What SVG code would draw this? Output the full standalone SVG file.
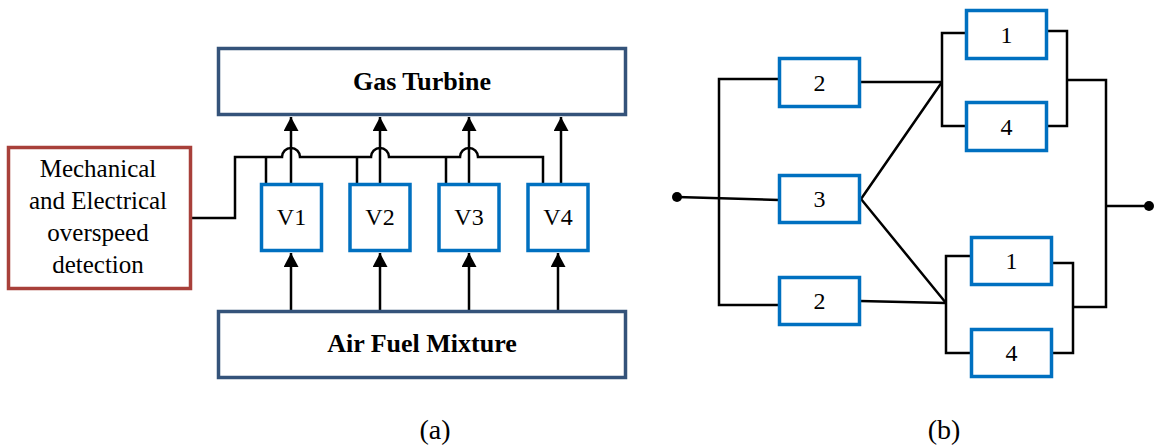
<svg xmlns="http://www.w3.org/2000/svg" width="1156" height="445" viewBox="0 0 1156 445">
<style>
.t{font-family:"Liberation Serif","Times New Roman",serif;fill:#000;text-anchor:middle}
.b{font-weight:bold;font-size:26px}
.v{font-size:24px}
.box-n{fill:#fff;stroke:#34537A;stroke-width:3.5}
.box-r{fill:#fff;stroke:#A8403A;stroke-width:3.5}
.box-b{fill:#fff;stroke:#0070C0;stroke-width:3.5}
.w{fill:none;stroke:#000;stroke-width:2.5}
</style>
<defs>
<marker id="ah" markerUnits="userSpaceOnUse" markerWidth="16" markerHeight="15" refX="15" refY="8" orient="auto" viewBox="0 0 16 16">
<path d="M0,0 L15,8 L0,16 Z" fill="#000"/>
</marker>
</defs>
<g id="connectors">
<path class="w" d="M190,218 H235 V157 H282 A9,9 0 0 1 300,157 H371 A9,9 0 0 1 389,157 H460 A9,9 0 0 1 478,157 H543 V184"/>
<path class="w" d="M266,157 V184 M357,157 V184 M446,157 V184"/>
<path class="w" d="M291,184 V117" marker-end="url(#ah)"/>
<path class="w" d="M380,184 V117" marker-end="url(#ah)"/>
<path class="w" d="M469,184 V117" marker-end="url(#ah)"/>
<path class="w" d="M561,184 V117" marker-end="url(#ah)"/>
<path class="w" d="M291,310 V253" marker-end="url(#ah)"/>
<path class="w" d="M380,310 V253" marker-end="url(#ah)"/>
<path class="w" d="M469,310 V253" marker-end="url(#ah)"/>
<path class="w" d="M558,310 V253" marker-end="url(#ah)"/>
<path class="w" d="M677,197 L779,200"/>
<path class="w" d="M779,79 H719 V305 H779"/>
<path class="w" d="M860,82 H942 M966,33 H942 V126 H966 M1047,31 H1067 V126 H1047 M1067,80 H1106 V307 H1073 M1106,206 H1149"/>
<path class="w" d="M942,82 L861,199 L946,303"/>
<path class="w" d="M860,301 L946,303 M971,256 H946 V353 H971 M1052,263 H1073 V353 H1052"/>
<circle cx="677" cy="197" r="5" fill="#000"/>
<circle cx="1149" cy="206" r="5" fill="#000"/>
</g>
<g id="gas-turbine">
<rect class="box-n" x="218.5" y="48.5" width="407" height="66"/>
<text class="t b" x="422" y="90">Gas Turbine</text>
</g>
<g id="air-fuel">
<rect class="box-n" x="218.5" y="311.5" width="407" height="66"/>
<text class="t b" x="422" y="352">Air Fuel Mixture</text>
</g>
<g id="detection">
<rect class="box-r" x="8.5" y="147.5" width="182" height="141"/>
<text class="t" style="font-size:25px" x="98" y="177">Mechanical</text>
<text class="t" style="font-size:25px" x="98" y="209">and Electrical</text>
<text class="t" style="font-size:25px" x="98" y="241">overspeed</text>
<text class="t" style="font-size:25px" x="98" y="273">detection</text>
</g>
<g id="v1"><rect class="box-b" x="261.5" y="184.5" width="60" height="66"/><text class="t v" x="291.5" y="225">V1</text></g>
<g id="v2"><rect class="box-b" x="350" y="184.5" width="60" height="66"/><text class="t v" x="380" y="225">V2</text></g>
<g id="v3"><rect class="box-b" x="439" y="184.5" width="60" height="66"/><text class="t v" x="469" y="225">V3</text></g>
<g id="v4"><rect class="box-b" x="528" y="184.5" width="60" height="66"/><text class="t v" x="558" y="225">V4</text></g>
<g id="b2-top"><rect class="box-b" x="779.5" y="58.5" width="80" height="48"/><text class="t v" x="819.5" y="91">2</text></g>
<g id="b3"><rect class="box-b" x="779.5" y="175.5" width="80" height="47"/><text class="t v" x="819.5" y="207">3</text></g>
<g id="b2-bot"><rect class="box-b" x="779.5" y="277.5" width="80" height="47"/><text class="t v" x="819.5" y="309">2</text></g>
<g id="b1-top"><rect class="box-b" x="966.5" y="10.5" width="80" height="48"/><text class="t v" x="1006.5" y="43">1</text></g>
<g id="b4-top"><rect class="box-b" x="966.5" y="102.5" width="80" height="48"/><text class="t v" x="1006.5" y="135">4</text></g>
<g id="b1-bot"><rect class="box-b" x="971.5" y="237.5" width="80" height="47"/><text class="t v" x="1011.5" y="269">1</text></g>
<g id="b4-bot"><rect class="box-b" x="971.5" y="329.5" width="80" height="47"/><text class="t v" x="1011.5" y="361">4</text></g>
<g id="captions">
<text class="t" style="font-size:28px" x="435" y="439">(a)</text>
<text class="t" style="font-size:28px" x="944" y="439">(b)</text>
</g>
</svg>
